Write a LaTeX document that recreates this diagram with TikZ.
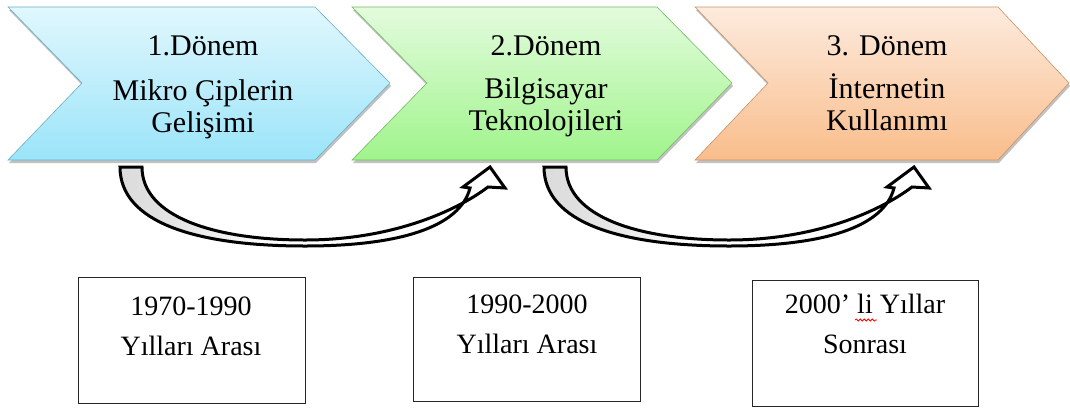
\documentclass[tikz,border=0pt]{standalone}
\usepackage{fontspec}
\setmainfont{Liberation Serif}
\usetikzlibrary{shadows,decorations.pathmorphing}

\definecolor{blueTop}{HTML}{E1F7FD}
\definecolor{blueBot}{HTML}{9BE4F9}
\definecolor{blueLine}{HTML}{6AAFC4}
\definecolor{greenTop}{HTML}{E3FBDD}
\definecolor{greenBot}{HTML}{A0F48C}
\definecolor{greenLine}{HTML}{72BC60}
\definecolor{orangeTop}{HTML}{FDEBDE}
\definecolor{orangeBot}{HTML}{F9BD8B}
\definecolor{orangeLine}{HTML}{C8946A}

% grey at the tail of the curved arrow, fading to white along the shaft
\pgfdeclarehorizontalshading{bentfade}{100bp}{%
  color(0bp)=(black!24); color(30bp)=(black!12); color(45bp)=(white); color(100bp)=(white)}

\tikzset{
  chevron/.style={line width=0.6pt,
    drop shadow={shadow xshift=1pt, shadow yshift=-3pt, opacity=0.35, fill=black!70}},
  headline/.style={font=\fontsize{30}{32}\selectfont, anchor=base, inner sep=0pt},
  yearbox/.style={draw=black!85, line width=1.3pt, fill=white, anchor=north west, inner sep=0pt},
  yearline/.style={font=\fontsize{28}{32}\selectfont, anchor=base, inner sep=0pt},
  bentbody/.style={draw=black, line width=3pt, line join=miter, shading=bentfade},
  % curved block arrow: tail at the origin, head up and to the right
  bent arrow/.pic={
    \path[bentbody] (0,0)
      .. controls (0,55) and (75,79) .. (185,79)
      .. controls (280,79) and (340,60) .. (350,21)
      -- (343,20) -- (370,0) -- (385,21) -- (368,20)
      .. controls (335,45) and (270,73) .. (185,73)
      .. controls (95,73) and (22,50) .. (22,0) -- cycle;
  }
}

\begin{document}
\begin{tikzpicture}[x=1pt, y=-1pt]
\useasboundingbox (0,0) rectangle (1070,408);

% three period chevrons
\path[chevron, draw=blueLine, top color=blueTop, bottom color=blueBot]
  (8,7) -- (315,7) -- (390,83) -- (315,160) -- (8,160) -- (82,83) -- cycle;
\path[chevron, draw=greenLine, top color=greenTop, bottom color=greenBot]
  (352,7) -- (657,7) -- (732,83) -- (657,160) -- (352,160) -- (427,83) -- cycle;
\path[chevron, draw=orangeLine, top color=orangeTop, bottom color=orangeBot]
  (695,7) -- (998,7) -- (1069,83) -- (998,160) -- (695,160) -- (768,83) -- cycle;

% chevron captions
\node[headline] (p1a) at (203,55)  {1.Dönem};
\node[headline] (p1b) at (203,100) {Mikro Çiplerin};
\node[headline] (p1c) at (203,132) {Gelişimi};

\node[headline] (p2a) at (546,55)  {2.Dönem};
\node[headline] (p2b) at (546,98)  {Bilgisayar};
\node[headline] (p2c) at (546,130) {Teknolojileri};

\node[headline] (p3a) at (887,55)  {3. Dönem};
\node[headline] (p3b) at (887,98)  {İnternetin};
\node[headline] (p3c) at (887,130) {Kullanımı};

% curved arrows between the periods
\pic at (120,167) {bent arrow};
\pic at (544,167) {bent arrow};

% year ranges
\node[yearbox, minimum width=227pt, minimum height=126pt] (b1) at (78,277) {};
\node[yearbox, minimum width=227pt, minimum height=124pt] (b2) at (413,277) {};
\node[yearbox, minimum width=226pt, minimum height=126pt] (b3) at (752,280) {};

\node[yearline] (y1a) at (191,315) {1970-1990};
\node[yearline] (y1b) at (191,355) {Yılları Arası};
\node[yearline] (y2a) at (527,313) {1990-2000};
\node[yearline] (y2b) at (527,353) {Yılları Arası};
\node[yearline] (y3a) at (865,313) {2000’ li Yıllar};
\node[yearline] (y3b) at (865,353) {Sonrası};

% spell-check wave under "li"
\draw[red, line width=0.8pt, decorate,
      decoration={snake, segment length=4pt, amplitude=1pt}]
  (855,320) -- (877,320);
\end{tikzpicture}
\end{document}
